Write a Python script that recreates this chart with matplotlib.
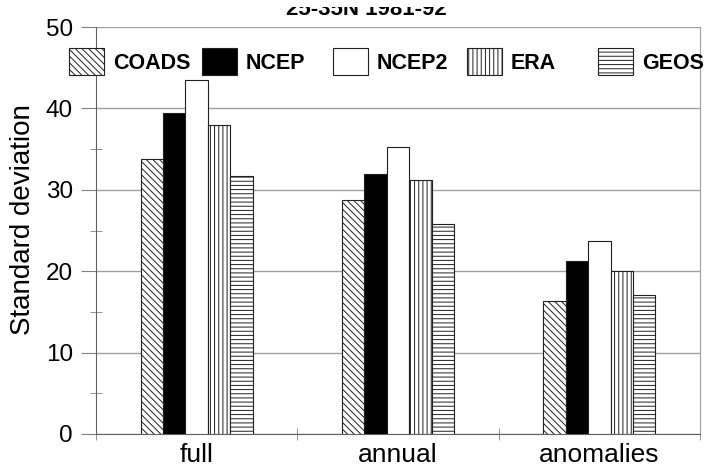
import numpy as np
import matplotlib
matplotlib.use("Agg")
import matplotlib.pyplot as plt
from matplotlib.patches import Rectangle
from matplotlib.ticker import MultipleLocator, FixedLocator

plt.rcParams['font.family'] = ['Liberation Sans', 'DejaVu Sans']
plt.rcParams['hatch.linewidth'] = 0.7

# data
categories = ["full", "annual", "anomalies"]
datasets = ["COADS", "NCEP", "NCEP2", "ERA", "GEOS"]
coads = [33.8, 28.8, 16.3]
ncep = [39.4, 31.9, 21.3]
ncep2 = [43.5, 35.3, 23.7]
era = [37.9, 31.2, 20.0]
geos = [31.7, 25.8, 17.1]
title = "25-35N 1981-92"

series = [coads, ncep, ncep2, era, geos]
faces = ["white", "black", "white", "white", "white"]
hatches = ["\\\\\\\\\\", None, None, "||||", "----"]

fig = plt.figure(figsize=(7.07, 4.68), dpi=100)
ax = fig.add_axes([96 / 707, 34 / 468, 604 / 707, 407 / 468])

x = np.arange(len(categories))
w = 0.111
bars = []
for i, vals in enumerate(series):
    b = ax.bar(x + (i - 2) * w, vals, w, color=faces[i], edgecolor="#202020",
               linewidth=0.8, hatch=hatches[i], zorder=3)
    bars.append(b)

ax.set_xlim(-0.5, 2.5)
ax.set_ylim(0, 50)
ax.yaxis.set_major_locator(MultipleLocator(10))
ax.yaxis.set_minor_locator(MultipleLocator(5))
ax.grid(axis="y", which="major", color="#a0a0a0", linewidth=1.0, zorder=0)

ax.set_xticks(x)
ax.set_xticklabels(categories, fontsize=19)
ax.xaxis.set_minor_locator(FixedLocator([-0.5, 0.5, 1.5, 2.5]))
ax.tick_params(axis="x", which="major", length=0, pad=6.5)
ax.tick_params(axis="x", which="minor", direction="inout", length=8.6,
               color="#808080")
ax.tick_params(axis="y", which="major", direction="out", length=11,
               color="#808080", labelsize=17.5, pad=5.5)
ax.tick_params(axis="y", which="minor", direction="inout", length=8,
               color="#808080")

ax.set_ylabel("Standard deviation", fontsize=20)
ax.yaxis.set_label_coords(-0.1, 0.526)

ax.spines["top"].set_visible(False)
ax.spines["right"].set_color("#a0a0a0")
ax.spines["left"].set_color("#606060")
ax.spines["bottom"].set_color("#606060")

# legend: one entry each, evenly spaced like the original
leg_x = [69, 202, 333, 467, 598]
for i, name in enumerate(datasets):
    leg = fig.legend([bars[i]], [name], loc="center left",
                     bbox_to_anchor=(leg_x[i] / 707, 1 - 61.5 / 468),
                     frameon=False, borderpad=0, borderaxespad=0,
                     handlelength=35 / 21.5, handleheight=33 / 21.5,
                     handletextpad=9 / 21.5,
                     prop=dict(family="Liberation Sans", weight="bold", size=15.5))

# the title is cut off at the top edge in the original
t = fig.text(366 / 707, 1 - 15 / 468, title, ha="center", va="baseline",
             fontsize=16, fontweight="bold")
t.set_clip_path(Rectangle((0, 0), 1, 1 - 7 / 468, transform=fig.transFigure))

fig.savefig("out.png", dpi=100)
